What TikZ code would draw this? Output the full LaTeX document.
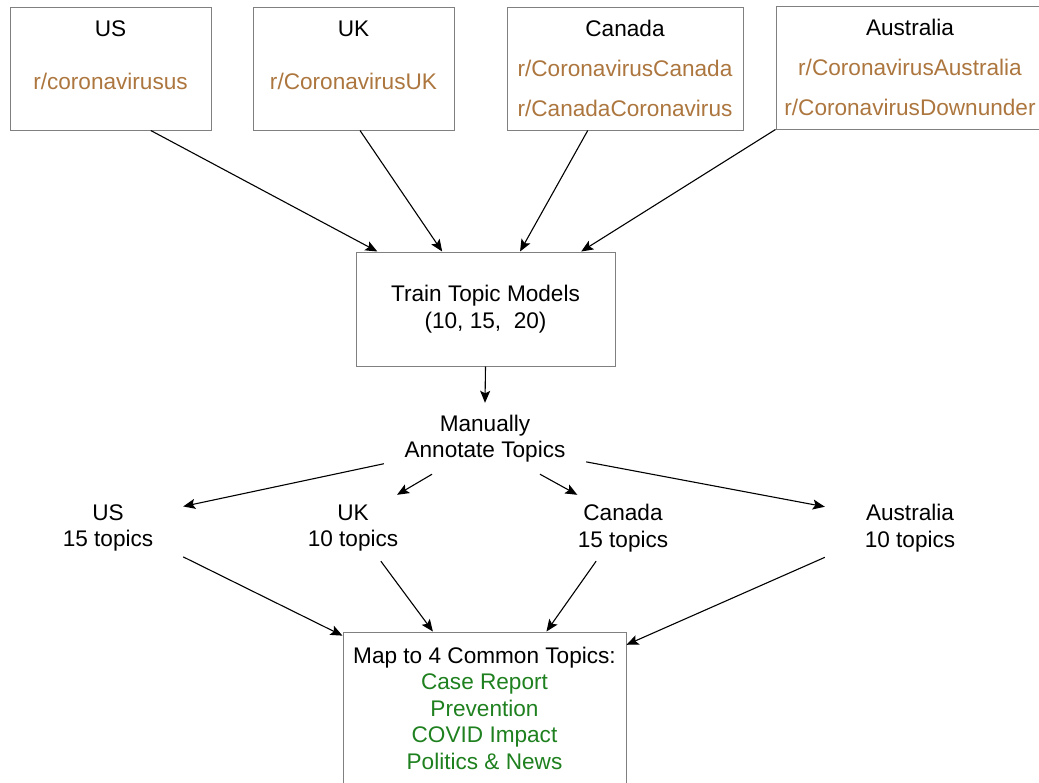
\documentclass[tikz,border=0pt]{standalone}
\usepackage{fontspec}
\setmainfont{Liberation Sans}
\usetikzlibrary{arrows.meta}
\definecolor{subbrown}{RGB}{172,118,62}
\definecolor{topicgreen}{RGB}{30,128,30}

\begin{document}
\begin{tikzpicture}[x=1pt,y=-1pt]
    \tikzstyle{every node}+=[font=\fontsize{22.6}{26.5}\selectfont, align=center, inner sep=0pt]
    \tikzstyle{box}=[draw=gray, line width=1pt]
    \tikzstyle{topic}=[minimum width=150pt, minimum height=66pt]
    \tikzstyle{arrow}=[draw=black, line width=1.1pt, -{Stealth[length=12pt,width=10pt,inset=2.5pt]}]
    \useasboundingbox (0,0) rectangle (1039,782);
    \node [box, minimum width=201pt, minimum height=123pt] (us) at (110.5,68.5) {US\\[26.5pt]\textcolor{subbrown}{r/coronavirusus}\\\mbox{}};
    \node [box, minimum width=201pt, minimum height=123pt] (uk) at (353.5,68.5) {UK\\[26.5pt]\textcolor{subbrown}{r/CoronavirusUK}\\\mbox{}};
    \node [box, minimum width=236pt, minimum height=123pt] (ca) at (625,68.5) {Canada\\[13.5pt]\textcolor{subbrown}{r/CoronavirusCanada}\\[13.5pt]\textcolor{subbrown}{r/CanadaCoronavirus}};
    \node [box, minimum width=268pt, minimum height=123pt] (au) at (910,67.5) {Australia\\[13.5pt]\textcolor{subbrown}{r/CoronavirusAustralia}\\[13.5pt]\textcolor{subbrown}{r/CoronavirusDownunder}};
    \node [box, minimum width=259pt, minimum height=114pt] (train) at (485.5,309) {Train Topic Models\\(10, 15, \ 20)};
    \node [minimum width=202pt, minimum height=71pt] (annotate) at (485,438.5) {Manually\\Annotate Topics};
    \node [topic] (tus) at (108,528) {US\\15 topics};
    \node [topic] (tuk) at (353,528) {UK\\10 topics};
    \node [topic] (tca) at (623,528) {Canada\\15 topics};
    \node [topic, minimum width=170pt] (tau) at (910,528) {Australia\\10 topics};
    \node [box, minimum width=283pt, minimum height=152pt] (common) at (484.5,708) {Map to 4 Common Topics:\\\textcolor{topicgreen}{Case Report}\\\textcolor{topicgreen}{Prevention}\\\textcolor{topicgreen}{COVID Impact}\\\textcolor{topicgreen}{Politics \& News}};
    \draw [arrow] (us.-57) -- (train.152);
    \draw [arrow] (uk.-84) -- (train.127);
    \draw [arrow] (ca.-121) -- (train.59);
    \draw [arrow] (au.south west) -- (train.31);
    \draw [arrow] (train.south) -- (annotate.north);
    \draw [arrow] (annotate.194) -- (tus.16);
    \draw [arrow] (annotate.214) -- (tuk.37);
    \draw [arrow] (annotate.-33) -- (tca.144);
    \draw [arrow] (annotate.-13) -- (tau.166);
    \draw [arrow] (tus.-21) -- (common.153);
    \draw [arrow] (tuk.-50) -- (common.124);
    \draw [arrow] (tca.231) -- (common.51);
    \draw [arrow] (tau.199) -- (common.24);
\end{tikzpicture}
\end{document}
